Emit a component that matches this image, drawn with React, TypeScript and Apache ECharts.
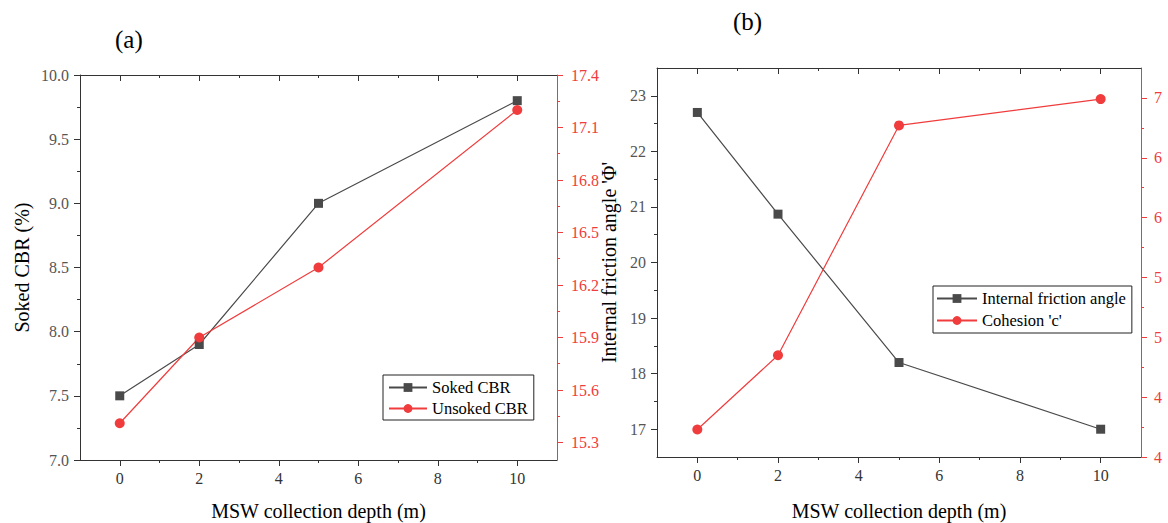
import React, { useEffect, useRef } from "react";
import * as echarts from "echarts";

// ---- data ----
const depth = [0, 2, 5, 10];
const sokedCBR = [7.5, 7.9, 9.0, 9.8];
const unsokedCBR = [15.41, 15.9, 16.3, 17.2];
const frictionAngle = [22.7, 20.87, 18.2, 17.0];
const cohesion = [4.23, 4.85, 6.77, 6.99];

// ---- tick values ----
const depthMajorTicks = [0, 2, 4, 6, 8, 10];
const depthMinorTicks = [1, 3, 5, 7, 9];
const unsokedMajorTicks = [15.3, 15.6, 15.9, 16.2, 16.5, 16.8, 17.1, 17.4];
const unsokedMinorTicks = [15.45, 15.75, 16.05, 16.35, 16.65, 16.95, 17.25];
const frictionMajorTicks = [17, 18, 19, 20, 21, 22, 23];
const frictionMinorTicks = [17.5, 18.5, 19.5, 20.5, 21.5, 22.5];
const cohesionMajorTicks = [4, 4.5, 5, 5.5, 6, 6.5, 7];
const cohesionMinorTicks = [4.25, 4.75, 5.25, 5.75, 6.25, 6.75];

const FONT = "Liberation Serif";
const AX = "#333333";
const RED = "#f03c3c";
const GRAY = "#4a4a4a";

function pairs(xs: number[], ys: number[]) {
  return xs.map((x, i) => [x, ys[i]]);
}

function labelStyle(color: string, fmt: (v: number) => string, margin: number, customValues?: number[]) {
  const o: any = {
    show: true,
    margin,
    fontFamily: FONT,
    fontSize: 16,
    color,
    formatter: (v: number) => fmt(v),
  };
  if (customValues) o.customValues = customValues;
  return o;
}

function xTickAxis(gridIndex: number, position: string, values: number[], length: number, inside: boolean, extra: any = {}) {
  return {
    type: "value",
    gridIndex,
    position,
    offset: 0,
    min: -1,
    max: 11,
    axisLine: { show: false, onZero: false },
    axisTick: { show: true, customValues: values, length, inside, lineStyle: { color: AX, width: 1 } },
    axisLabel: { show: false },
    splitLine: { show: false },
    ...extra,
  };
}

function xAxesFor(gridIndex: number, nameGap: number) {
  return [
    xTickAxis(gridIndex, "bottom", depthMajorTicks, 6, false, {
      axisLine: { show: true, onZero: false, lineStyle: { color: AX, width: 1 } },
      axisLabel: labelStyle("#333", (v) => String(v), 10, depthMajorTicks),
      name: "MSW collection depth (m)",
      nameLocation: "middle",
      nameGap,
      nameTextStyle: { fontFamily: FONT, fontSize: 20, color: "#000" },
    }),
    xTickAxis(gridIndex, "bottom", depthMinorTicks, 3, false),
    xTickAxis(gridIndex, "top", depthMajorTicks, 6, true, {
      axisLine: { show: true, onZero: false, lineStyle: { color: AX, width: 1 } },
    }),
    xTickAxis(gridIndex, "top", depthMinorTicks, 3, true),
  ];
}

function yTickAxis(gridIndex: number, position: string, min: number, max: number, values: number[], length: number, color: string, extra: any = {}) {
  return {
    type: "value",
    gridIndex,
    position,
    offset: 0,
    min,
    max,
    axisLine: { show: false, onZero: false },
    axisTick: { show: true, customValues: values, length, inside: false, lineStyle: { color, width: 1 } },
    axisLabel: { show: false },
    splitLine: { show: false },
    ...extra,
  };
}

const option: any = {
  animation: false,
  backgroundColor: "#ffffff",
  textStyle: { fontFamily: FONT },
  grid: [
    { left: 80, top: 75, width: 477, height: 385, containLabel: false, outerBoundsMode: "none" },
    { left: 657, top: 68, width: 484, height: 389, containLabel: false, outerBoundsMode: "none" },
  ],
  xAxis: [...xAxesFor(0, 41), ...xAxesFor(1, 44)],
  yAxis: [
    // grid 0 left
    {
      type: "value",
      gridIndex: 0,
      position: "left",
      min: 7,
      max: 10,
      interval: 0.5,
      axisLine: { show: true, onZero: false, lineStyle: { color: AX, width: 1 } },
      axisTick: { show: true, length: 6, lineStyle: { color: AX, width: 1 } },
      minorTick: { show: true, splitNumber: 2, length: 3, lineStyle: { color: AX, width: 1 } },
      axisLabel: labelStyle("#555", (v) => v.toFixed(1), 11),
      splitLine: { show: false },
      name: "Soked CBR (%)",
      nameLocation: "middle",
      nameGap: 48,
      nameTextStyle: { fontFamily: FONT, fontSize: 20, color: "#000" },
    },
    // grid 0 right (red)
    yTickAxis(0, "right", 15.2, 17.4, unsokedMajorTicks, 6, RED, {
      axisLine: { show: true, onZero: false, lineStyle: { color: RED, width: 1 } },
      axisLabel: labelStyle(RED, (v) => v.toFixed(1), 14, unsokedMajorTicks),
    }),
    yTickAxis(0, "right", 15.2, 17.4, unsokedMinorTicks, 3, RED),
    // grid 1 left
    yTickAxis(1, "left", 16.5, 23.5, frictionMajorTicks, 6, AX, {
      axisLine: { show: true, onZero: false, lineStyle: { color: AX, width: 1 } },
      axisLabel: labelStyle("#555", (v) => String(v), 11, frictionMajorTicks),
      name: "Internal friction angle 'Φ'",
      nameLocation: "middle",
      nameGap: 38,
      nameTextStyle: { fontFamily: FONT, fontSize: 20, color: "#000" },
    }),
    yTickAxis(1, "left", 16.5, 23.5, frictionMinorTicks, 3, AX),
    // grid 1 right (red)
    yTickAxis(1, "right", 4, 7.25, cohesionMajorTicks, 6, RED, {
      axisLine: { show: true, onZero: false, lineStyle: { color: RED, width: 1 } },
      axisLabel: labelStyle(RED, (v) => String(Math.floor(v + 1e-9)), 13, cohesionMajorTicks),
    }),
    yTickAxis(1, "right", 4, 7.25, cohesionMinorTicks, 3, RED),
  ],
  legend: [
    {
      data: ["Soked CBR", "Unsoked CBR"],
      orient: "vertical",
      left: 383,
      top: 375,
      padding: [3, 6, 2, 5],
      itemGap: 2,
      itemWidth: 38,
      itemHeight: 11,
      borderColor: "#222",
      borderWidth: 1,
      borderRadius: 0,
      backgroundColor: "#fff",
      textStyle: { fontFamily: FONT, fontSize: 16.5, color: "#000", lineHeight: 19 },
    },
    {
      data: ["Internal friction angle", "Cohesion 'c'"],
      orient: "vertical",
      left: 933,
      top: 286,
      padding: [3, 6, 3, 3],
      itemGap: 3,
      itemWidth: 40,
      itemHeight: 11,
      borderColor: "#222",
      borderWidth: 1,
      borderRadius: 0,
      backgroundColor: "#fff",
      textStyle: { fontFamily: FONT, fontSize: 16.5, color: "#000", lineHeight: 19 },
    },
  ],
  series: [
    {
      name: "Soked CBR",
      type: "line",
      xAxisIndex: 0,
      yAxisIndex: 0,
      data: pairs(depth, sokedCBR),
      symbol: "rect",
      symbolSize: 9,
      itemStyle: { color: GRAY },
      lineStyle: { color: GRAY, width: 1.2 },
      z: 3,
    },
    {
      name: "Unsoked CBR",
      type: "line",
      xAxisIndex: 0,
      yAxisIndex: 1,
      data: pairs(depth, unsokedCBR),
      symbol: "circle",
      symbolSize: 10,
      itemStyle: { color: RED },
      lineStyle: { color: RED, width: 1.2 },
      z: 3,
    },
    {
      name: "Internal friction angle",
      type: "line",
      xAxisIndex: 4,
      yAxisIndex: 3,
      data: pairs(depth, frictionAngle),
      symbol: "rect",
      symbolSize: 9,
      itemStyle: { color: GRAY },
      lineStyle: { color: GRAY, width: 1.2 },
      z: 3,
    },
    {
      name: "Cohesion 'c'",
      type: "line",
      xAxisIndex: 4,
      yAxisIndex: 5,
      data: pairs(depth, cohesion),
      symbol: "circle",
      symbolSize: 10,
      itemStyle: { color: RED },
      lineStyle: { color: RED, width: 1.2 },
      z: 3,
    },
  ],
  graphic: [
    {
      type: "text",
      left: 115,
      top: 27,
      style: { text: "(a)", fontFamily: FONT, fontSize: 25, fill: "#000" },
    },
    {
      type: "text",
      left: 733,
      top: 9,
      style: { text: "(b)", fontFamily: FONT, fontSize: 25, fill: "#000" },
    },
  ],
};

export default function App() {
  const ref = useRef<HTMLDivElement>(null);
  useEffect(() => {
    const chart = echarts.init(ref.current as HTMLDivElement, null, { renderer: "svg" });
    chart.setOption(option);
    return () => {
      chart.dispose();
    };
  }, []);
  return (
    <div
      ref={ref}
      style={{ position: "fixed", left: 0, top: 0, width: 1168, height: 523, background: "#fff" }}
    />
  );
}
